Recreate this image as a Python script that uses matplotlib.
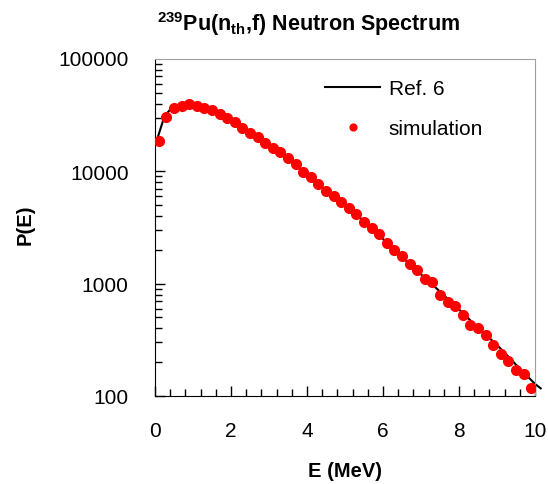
import matplotlib
matplotlib.use("Agg")
import matplotlib.pyplot as plt
from matplotlib.ticker import FixedLocator, LogLocator, NullFormatter, MultipleLocator

plt.rcParams["font.family"] = ["Liberation Sans", "DejaVu Sans"]
plt.rcParams["mathtext.fontset"] = "custom"
plt.rcParams["mathtext.rm"] = "Liberation Sans:bold"
plt.rcParams["mathtext.it"] = "Liberation Sans:bold"
plt.rcParams["mathtext.bf"] = "Liberation Sans:bold"

# simulated spectrum (markers)
sim_E = [0.1, 0.3, 0.5, 0.7, 0.9, 1.1, 1.3, 1.5, 1.7, 1.9,
         2.1, 2.3, 2.5, 2.7, 2.9, 3.1, 3.3, 3.5, 3.7, 3.9,
         4.1, 4.3, 4.5, 4.7, 4.9, 5.1, 5.3, 5.5, 5.7, 5.9,
         6.1, 6.3, 6.5, 6.7, 6.9, 7.1, 7.3, 7.5, 7.7, 7.9,
         8.1, 8.3, 8.5, 8.7, 8.9, 9.1, 9.3, 9.5, 9.7, 9.9]
sim_P = [18800, 30700, 36500, 37900, 39600, 37900, 36500, 34800, 32300, 29700,
         27400, 24200, 22100, 20400, 18000, 16000, 14800, 13100, 11550, 9790,
         8970, 7710, 6730, 6030, 5290, 4680, 4130, 3560, 3100, 2760,
         2320, 1980, 1750, 1490, 1315, 1110, 1036, 798, 687, 627,
         529, 431, 402, 352, 287, 237, 207, 171, 157, 117]

# reference spectrum (Ref. 6, line)
ref_E = [0.05, 0.25, 0.4, 0.6, 0.8, 1.0, 1.25, 1.5, 1.75, 2.0,
         2.5, 3.0, 3.5, 4.0, 4.5, 5.0, 5.5, 6.0, 6.5, 7.0,
         7.5, 8.0, 8.5, 9.0, 9.5, 10.0, 10.15]
ref_P = [19000, 31000, 35500, 38000, 38800, 38500, 36800, 34500, 31800, 28500,
         22300, 17000, 12900, 9300, 6800, 4950, 3600, 2500, 1720, 1210,
         850, 590, 405, 285, 190, 128, 117]

fig = plt.figure(figsize=(5.48, 4.85), dpi=100)
ax = fig.add_axes([155 / 548, 1 - 397 / 485, 380 / 548, 337 / 485])

ax.plot(ref_E, ref_P, color="black", lw=1.5, label="Ref. 6", clip_on=False, zorder=2)
ax.plot(sim_E, sim_P, linestyle="none", marker="o", ms=7, color="red",
        mec="red", label="simulation", zorder=3)

ax.set_yscale("log")
ax.set_xlim(0, 10)
ax.set_ylim(100, 100000)

ax.xaxis.set_major_locator(MultipleLocator(2))
ax.xaxis.set_minor_locator(MultipleLocator(0.4))
ax.yaxis.set_major_locator(FixedLocator([100, 1000, 10000]))
ax.yaxis.set_minor_locator(LogLocator(base=10, subs=range(2, 10)))
ax.yaxis.set_minor_formatter(NullFormatter())
ax.set_yticklabels(["100", "1000", "10000"])
ax.annotate("100000", xy=(0, 100000), xycoords="data", xytext=(-19, 0),
            textcoords="offset points", ha="right", va="center", fontsize=15,
            annotation_clip=False)

ax.tick_params(axis="both", which="both", direction="in", top=False, right=False,
               labelsize=15, width=1)
ax.tick_params(axis="both", which="major", length=7)
ax.tick_params(axis="both", which="minor", length=5)
ax.tick_params(axis="y", which="major", pad=19)
ax.tick_params(axis="x", which="major", pad=18)

for side in ["top", "right"]:
    ax.spines[side].set_color("#a0a0a0")
for side in ["left", "bottom"]:
    ax.spines[side].set_color("black")

ax.set_xlabel("E (MeV)", fontsize=14.5, fontweight="bold")
ax.set_ylabel("P(E)", fontsize=14.5, fontweight="bold")
ax.xaxis.set_label_coords(0.5, -0.192)
ax.yaxis.set_label_coords(-0.318, 0.51)

fig.text(309 / 548, 1 - 24 / 485,
         r"$\mathrm{^{239}}$Pu(n$\mathrm{_{th}}$,f) Neutron Spectrum",
         ha="center", va="center", fontsize=15.5, fontweight="bold")

ax.legend(loc="upper left", bbox_to_anchor=(325 / 548, 1 - 80 / 485),
          bbox_transform=fig.transFigure, frameon=False, fontsize=15,
          handlelength=2.65, handletextpad=0.4, labelspacing=1.0,
          markerscale=0.7, borderpad=0, borderaxespad=0)

plt.savefig("out.png", dpi=100)
